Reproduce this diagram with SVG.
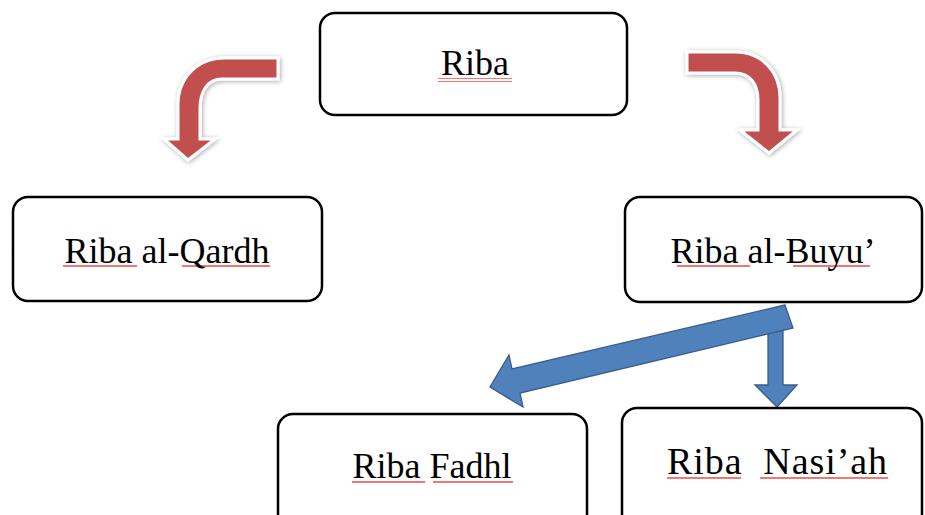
<svg xmlns="http://www.w3.org/2000/svg" width="925" height="515" viewBox="0 0 925 515">
<defs>
<filter id="glow" x="-20%" y="-20%" width="140%" height="140%">
<feGaussianBlur in="SourceAlpha" stdDeviation="2.5"/>
<feOffset dx="0.5" dy="1" result="b"/>
<feComponentTransfer><feFuncA type="linear" slope="0.35"/></feComponentTransfer>
<feMerge><feMergeNode/><feMergeNode in="SourceGraphic"/></feMerge>
</filter>
<pattern id="sq" width="4" height="4" patternUnits="userSpaceOnUse">
<path d="M0,3 L1,1 L2,3 L3,1 L4,3" fill="none" stroke="#e8463c" stroke-width="0.9"/>
</pattern>
<style>
.box{fill:#fff;stroke:#000;stroke-width:2.5}
.lbl{font-family:"Liberation Serif","Times New Roman",serif;font-size:36px;fill:#000;text-anchor:middle;white-space:pre}
.red{fill:#c0504d;stroke:#fff;stroke-width:3;stroke-linejoin:miter;filter:url(#glow)}
.blue{fill:#4f81bd;stroke:#385d8a;stroke-width:1.3;stroke-linejoin:miter}
.sq{fill:url(#sq)}
</style>
</defs>
<rect width="925" height="515" fill="#fff"/>
<g id="connectors">
<path class="red" d="M278,58 L225,58 C197,58 178,78 178,105 L178,139 L164,139 L188,160 L215,139 L200,139 L200,108 C200,92 207,79 222,79 L278,79 Z"/>
<path class="red" d="M687,52 L735,52 C762,52 780,72 780,98 L780,130 L797,130 L769,153 L740,130 L758,130 L758,100 C758,84 750,73 735,73 L687,73 Z"/>
<path class="blue" d="M768,326 L768,385 L755,385 L777,407 L797,385 L783,385 L783,326 Z"/>
<path class="blue" d="M785,305 L512,369 L509,355 L490,387 L523,407 L520,393 L793,328 Z"/>
</g>
<g id="node-riba">
<rect class="box" x="320" y="13" width="307" height="102" rx="15"/>
<rect class="sq" x="438" y="78" width="74" height="4"/>
<text class="lbl" x="475" y="75">Riba</text>
</g>
<g id="node-qardh">
<rect class="box" x="13" y="197" width="309" height="104" rx="15"/>
<rect class="sq" x="63" y="265" width="74" height="4"/>
<rect class="sq" x="182" y="265" width="88" height="4"/>
<text class="lbl" x="167" y="263">Riba al-Qardh</text>
</g>
<g id="node-buyu">
<rect class="box" x="625" y="197" width="297" height="105" rx="15"/>
<rect class="sq" x="677" y="265" width="73" height="4"/>
<rect class="sq" x="793" y="265" width="77" height="4"/>
<text class="lbl" x="773" y="263">Riba al-Buyu’</text>
</g>
<g id="node-fadhl">
<rect class="box" x="278" y="414" width="309" height="130" rx="15"/>
<rect class="sq" x="352" y="480" width="73" height="4"/>
<rect class="sq" x="433" y="480" width="80" height="4"/>
<text class="lbl" x="432" y="478">Riba Fadhl</text>
</g>
<g id="node-nasiah">
<rect class="box" x="622" y="408" width="300" height="130" rx="15"/>
<rect class="sq" x="667" y="477" width="74" height="4"/>
<rect class="sq" x="760" y="477" width="128" height="4"/>
<text class="lbl" x="777" y="474" style="font-size:38px" textLength="220" lengthAdjust="spacing">Riba  Nasi’ah</text>
</g>
</svg>
